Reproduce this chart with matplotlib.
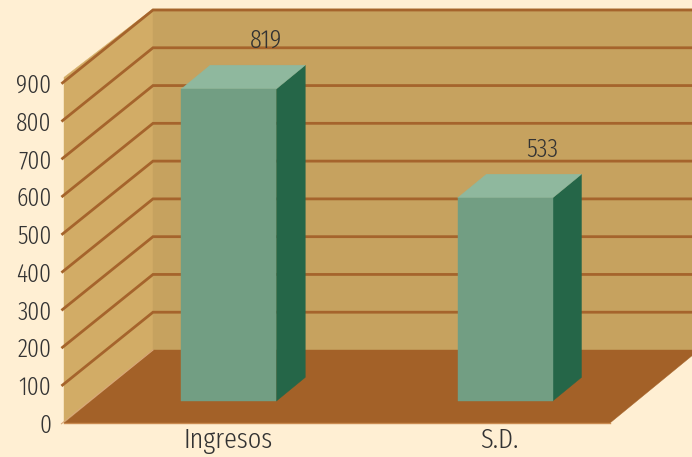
import numpy as np
import matplotlib
matplotlib.use('Agg')
import matplotlib.pyplot as plt
from matplotlib.patches import Polygon

categories = ['Ingresos', 'S.D.']
values = [819, 533]
y_ticks = [0, 100, 200, 300, 400, 500, 600, 700, 800, 900]

BG = '#FFEFD3'
WALL_BACK = '#C6A25F'
WALL_LEFT = '#D2AC66'
FLOOR = '#A36128'
GRID = '#A5642C'
BAR_FRONT = '#729E83'
BAR_TOP = '#8FB89E'
BAR_SIDE = '#256648'
TEXT = '#333333'

W, H = 692, 457
LEFT_PX, BOTTOM_PX, TOP_PX = 64, 423, 83
UNIT_PX = 276.25                # one category in pixels
XMAX = 546 / UNIT_PX
YMAX = y_ticks[-1]
PX_PER_VAL = (BOTTOM_PX - TOP_PX) / YMAX

# oblique depth: one unit of depth moves the point right and up
DEPTH_X = 89 / UNIT_PX
DEPTH_Y = 73 / PX_PER_VAL

BAR_W = 95 / UNIT_PX
BAR_D0 = 0.30
BAR_D = 0.325
BAR_SCALE = 1.009

plt.rcParams['font.family'] = ['Fira Sans Extra Condensed', 'Liberation Sans', 'DejaVu Sans']
plt.rcParams['font.weight'] = 300


def proj(x, v, d=0.0):
    return x + DEPTH_X * d, v + DEPTH_Y * d


def face(ax, pts, color, z):
    ax.add_patch(Polygon([proj(*p) for p in pts], closed=True, fc=color, ec=color,
                         lw=0.3, zorder=z, clip_on=False))


fig = plt.figure(figsize=(W / 100, H / 100), dpi=100, facecolor=BG)
ax = fig.add_axes([LEFT_PX / W, 1 - BOTTOM_PX / H, 546 / W, (BOTTOM_PX - TOP_PX) / H])
ax.set_xlim(0, XMAX)
ax.set_ylim(0, YMAX)
ax.patch.set_visible(False)
for s in ax.spines.values():
    s.set_visible(False)

# walls and floor
face(ax, [(0, 0, 0), (0, 0, 1), (0, YMAX + 3, 1), (0, YMAX + 15, 0)], WALL_LEFT, 1)
face(ax, [(0, 0, 1), (XMAX, 0, 1), (XMAX, YMAX + 3, 1), (0, YMAX + 3, 1)], WALL_BACK, 1)
face(ax, [(0, 0, 0), (XMAX, 0, 0), (XMAX, 0, 1), (0, 0, 1)], FLOOR, 3)

# grid on left and back wall
for t in y_ticks:
    x0, y0 = proj(-0.006, t, -0.01)
    x1, y1 = proj(0, t, 1)
    x2, y2 = proj(XMAX, t, 1)
    if t == 0:
        ax.plot([x0, x1], [y0, y1], color='#D9A878', lw=0.8, zorder=4, clip_on=False)
        continue
    ax.plot([x0, x1, x2], [y0, y1, y2], color=GRID, lw=2.0, zorder=2, clip_on=False,
            solid_joinstyle='miter', solid_capstyle='butt')
ax.plot([0, XMAX], [0, 0], color='#C98A50', lw=1.0, zorder=4, clip_on=False)

# bars
for i, val in enumerate(values):
    x0 = i + 0.5 - BAR_W / 2
    x1 = x0 + BAR_W
    h = val * BAR_SCALE
    d0, d1 = BAR_D0, BAR_D0 + BAR_D
    face(ax, [(x0, 0, d0), (x1, 0, d0), (x1, h, d0), (x0, h, d0)], BAR_FRONT, 6)
    face(ax, [(x1, 0, d0), (x1, 0, d1), (x1, h, d1), (x1, h, d0)], BAR_SIDE, 5)
    face(ax, [(x0, h, d0), (x1, h, d0), (x1, h, d1), (x0, h, d1)], BAR_TOP, 5)
    lx, ly = proj(i + 0.5, h, d1)
    ax.annotate(str(val), xy=(lx, ly), xytext=(8, 25), textcoords='offset pixels',
                ha='center', va='center', fontsize=19, color=TEXT, zorder=8,
                annotation_clip=False)

# real axis ticks, labels only
ax.set_yticks(y_ticks)
ax.set_yticklabels([str(t) for t in y_ticks], fontsize=18.5, color=TEXT)
ax.set_xticks([(228.5 - LEFT_PX) / UNIT_PX, (499 - LEFT_PX) / UNIT_PX])
ax.set_xticklabels(categories, fontsize=20.5, color=TEXT)
ax.tick_params(axis='y', length=0, pad=9)
ax.tick_params(axis='x', length=0, pad=3)

fig.savefig('out.png', dpi=100, facecolor=BG)
